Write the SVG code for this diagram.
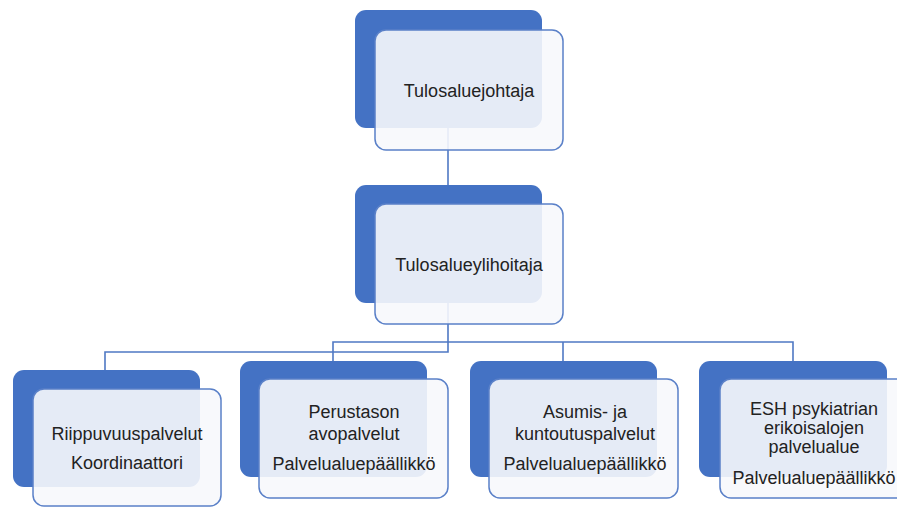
<svg xmlns="http://www.w3.org/2000/svg" width="897" height="507" viewBox="0 0 897 507">
<style>
.dark{fill:#4472C4;}
.light{fill:#F7F8FC;fill-opacity:0.9;stroke:#5A80C8;stroke-width:1.5;}
.conn{fill:none;stroke:#4F78C4;stroke-width:1.6;}
text{font-family:"Liberation Sans",Arial,sans-serif;font-size:18px;fill:#222;text-anchor:middle;}
</style>
<rect width="897" height="507" fill="#fff"/>
<g id="connectors">
<path class="conn" d="M448,128 V185"/>
<path class="conn" d="M448,303 V352 H105 V370"/>
<path class="conn" d="M333,361 V342 H793 V361"/>
<path class="conn" d="M563,342 V361"/>
</g>
<g id="n-tulosaluejohtaja">
<rect class="dark" x="355" y="10" width="187" height="118" rx="11"/>
<rect class="light" x="375" y="30" width="188" height="120" rx="11"/>
<text x="469" y="97">Tulosaluejohtaja</text>
</g>
<g id="n-tulosalueylihoitaja">
<rect class="dark" x="355" y="185" width="187" height="118" rx="11"/>
<rect class="light" x="375" y="204" width="188" height="120" rx="11"/>
<text x="469" y="271">Tulosalueylihoitaja</text>
</g>
<g id="n-riippuvuus">
<rect class="dark" x="13" y="370" width="187" height="117" rx="11"/>
<rect class="light" x="33" y="389" width="188" height="117" rx="11"/>
<text x="127" y="440">Riippuvuuspalvelut</text>
<text x="127" y="469">Koordinaattori</text>
</g>
<g id="n-perustason">
<rect class="dark" x="240" y="361" width="187" height="116" rx="11"/>
<rect class="light" x="259" y="379" width="189" height="119" rx="11"/>
<text x="354" y="418">Perustason</text>
<text x="354" y="440">avopalvelut</text>
<text x="354" y="470">Palvelualuepäällikkö</text>
</g>
<g id="n-asumis">
<rect class="dark" x="470" y="361" width="187" height="116" rx="11"/>
<rect class="light" x="489" y="379" width="189" height="119" rx="11"/>
<text x="585" y="418">Asumis- ja</text>
<text x="585" y="440">kuntoutuspalvelut</text>
<text x="585" y="470">Palvelualuepäällikkö</text>
</g>
<g id="n-esh">
<rect class="dark" x="699" y="361" width="188" height="116" rx="11"/>
<rect class="light" x="720" y="379" width="189" height="119" rx="11"/>
<text x="814" y="415">ESH psykiatrian</text>
<text x="814" y="434">erikoisalojen</text>
<text x="814" y="453">palvelualue</text>
<text x="814" y="484">Palvelualuepäällikkö</text>
</g>
</svg>
